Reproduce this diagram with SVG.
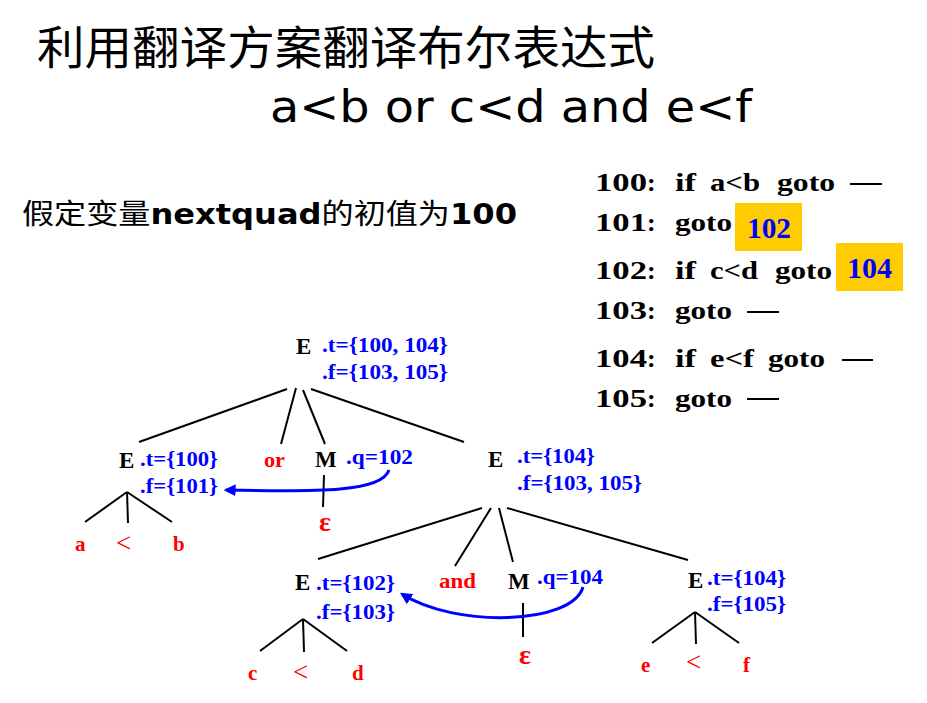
<svg xmlns="http://www.w3.org/2000/svg" width="927" height="703" viewBox="0 0 927 703">
<style>
.code{font-family:"Liberation Serif","Times New Roman",serif;font-weight:bold;font-size:26px;fill:#000}
.nt{font-family:"Liberation Serif","Times New Roman",serif;font-weight:bold;font-size:23px;fill:#000}
.attr{font-family:"Liberation Serif","Times New Roman",serif;font-weight:bold;font-size:21px;fill:#0000ff}
.term{font-family:"Liberation Serif","Times New Roman",serif;font-weight:bold;font-size:21px;fill:#ff0000}
.eps{font-family:"Liberation Serif","Times New Roman",serif;font-weight:bold;font-size:28px;fill:#ff0000}
.lt{font-family:"Liberation Serif","Times New Roman",serif;font-size:27px;fill:#ff0000}
.edge{stroke:#000;stroke-width:2;fill:none}
.arc{stroke:#0000ff;stroke-width:3;fill:none}
.dash{stroke:#000;stroke-width:2}
</style>
<defs>
<marker id="ah" viewBox="0 0 10 10" refX="8" refY="5" markerWidth="4" markerHeight="4" orient="auto" markerUnits="strokeWidth">
<path d="M0,0 L10,5 L0,10 z" fill="#0000ff"/>
</marker>
</defs>
<rect width="927" height="703" fill="#fff"/>

<g id="title">
<text x="37" y="64" font-family="'Noto Sans CJK SC',sans-serif" font-size="46" textLength="618" lengthAdjust="spacingAndGlyphs">利用翻译方案翻译布尔表达式</text>
<text x="270" y="122" font-family="'DejaVu Sans',sans-serif" font-size="44" textLength="482" lengthAdjust="spacingAndGlyphs">a&lt;b or c&lt;d and e&lt;f</text>
</g>
<g id="note">
<text x="22" y="224" font-size="28" textLength="495" lengthAdjust="spacingAndGlyphs"><tspan font-family="'Noto Sans CJK SC',sans-serif">假定变量</tspan><tspan font-family="'DejaVu Sans',sans-serif" font-weight="bold">nextquad</tspan><tspan font-family="'Noto Sans CJK SC',sans-serif">的初值为</tspan><tspan font-family="'DejaVu Sans',sans-serif" font-weight="bold">100</tspan></text>
</g>

<g id="code">
<g id="q100">
<text class="code" x="595" y="191" textLength="52" lengthAdjust="spacingAndGlyphs">100</text><text class="code" x="647" y="191">:</text>
<text class="code" x="675" y="191" textLength="21" lengthAdjust="spacingAndGlyphs">if</text>
<text class="code" x="710" y="191" textLength="50" lengthAdjust="spacingAndGlyphs">a&lt;b</text>
<text class="code" x="777" y="191" textLength="58" lengthAdjust="spacingAndGlyphs">goto</text>
<line class="dash" x1="850" y1="184" x2="882" y2="184"/>
</g>
<g id="q101">
<text class="code" x="595" y="231" textLength="52" lengthAdjust="spacingAndGlyphs">101</text><text class="code" x="647" y="231">:</text>
<text class="code" x="675" y="231" textLength="57" lengthAdjust="spacingAndGlyphs">goto</text>
<rect x="735" y="203" width="67" height="48" fill="#ffcc00"/>
<text class="code" x="747" y="238" style="fill:#0000ff;font-size:30px" textLength="44" lengthAdjust="spacingAndGlyphs">102</text>
</g>
<g id="q102">
<text class="code" x="595" y="279" textLength="52" lengthAdjust="spacingAndGlyphs">102</text><text class="code" x="647" y="279">:</text>
<text class="code" x="675" y="279" textLength="21" lengthAdjust="spacingAndGlyphs">if</text>
<text class="code" x="710" y="279" textLength="48" lengthAdjust="spacingAndGlyphs">c&lt;d</text>
<text class="code" x="775" y="279" textLength="57" lengthAdjust="spacingAndGlyphs">goto</text>
<rect x="836" y="243" width="67" height="48" fill="#ffcc00"/>
<text class="code" x="847" y="278" style="fill:#0000ff;font-size:30px" textLength="45" lengthAdjust="spacingAndGlyphs">104</text>
</g>
<g id="q103">
<text class="code" x="595" y="319" textLength="52" lengthAdjust="spacingAndGlyphs">103</text><text class="code" x="647" y="319">:</text>
<text class="code" x="675" y="319" textLength="57" lengthAdjust="spacingAndGlyphs">goto</text>
<line class="dash" x1="747" y1="312" x2="779" y2="312"/>
</g>
<g id="q104">
<text class="code" x="595" y="367" textLength="52" lengthAdjust="spacingAndGlyphs">104</text><text class="code" x="647" y="367">:</text>
<text class="code" x="675" y="367" textLength="21" lengthAdjust="spacingAndGlyphs">if</text>
<text class="code" x="710" y="367" textLength="44" lengthAdjust="spacingAndGlyphs">e&lt;f</text>
<text class="code" x="768" y="367" textLength="57" lengthAdjust="spacingAndGlyphs">goto</text>
<line class="dash" x1="842" y1="360" x2="873" y2="360"/>
</g>
<g id="q105">
<text class="code" x="595" y="407" textLength="52" lengthAdjust="spacingAndGlyphs">105</text><text class="code" x="647" y="407">:</text>
<text class="code" x="675" y="407" textLength="57" lengthAdjust="spacingAndGlyphs">goto</text>
<line class="dash" x1="747" y1="399" x2="779" y2="399"/>
</g>
</g>

<g id="connectors">
<line class="edge" x1="287" y1="389" x2="139" y2="442"/>
<line class="edge" x1="296" y1="388" x2="281" y2="444"/>
<line class="edge" x1="303" y1="390" x2="325" y2="444"/>
<line class="edge" x1="311" y1="389" x2="464" y2="442"/>
<line class="edge" x1="324" y1="475" x2="323" y2="507"/>
<line class="edge" x1="127" y1="492" x2="85" y2="522"/>
<line class="edge" x1="127" y1="492" x2="128" y2="523"/>
<line class="edge" x1="127" y1="492" x2="172" y2="522"/>
<line class="edge" x1="482" y1="508" x2="318" y2="559"/>
<line class="edge" x1="491" y1="508" x2="455" y2="566"/>
<line class="edge" x1="499" y1="508" x2="513" y2="562"/>
<line class="edge" x1="507" y1="508" x2="688" y2="560"/>
<line class="edge" x1="523" y1="603" x2="523" y2="637"/>
<line class="edge" x1="303" y1="619" x2="260" y2="651"/>
<line class="edge" x1="303" y1="619" x2="304" y2="652"/>
<line class="edge" x1="303" y1="619" x2="347" y2="651"/>
<line class="edge" x1="695" y1="612" x2="652" y2="643"/>
<line class="edge" x1="695" y1="612" x2="696" y2="644"/>
<line class="edge" x1="695" y1="612" x2="739" y2="643"/>
<path class="arc" d="M389,470 C382,492 320,492 226,490" marker-end="url(#ah)"/>
<path class="arc" d="M583,587 C572,625 455,628 402,594" marker-end="url(#ah)"/>
</g>

<g id="E_root">
<text class="nt" x="296" y="354">E</text>
<text class="attr" x="322" y="352" textLength="126" lengthAdjust="spacingAndGlyphs">.t={100, 104}</text>
<text class="attr" x="322" y="379" textLength="126" lengthAdjust="spacingAndGlyphs">.f={103, 105}</text>
</g>
<g id="E1">
<text class="nt" x="119" y="468">E</text>
<text class="attr" x="140" y="466" textLength="78" lengthAdjust="spacingAndGlyphs">.t={100}</text>
<text class="attr" x="140" y="493" textLength="78" lengthAdjust="spacingAndGlyphs">.f={101}</text>
</g>
<g id="or"><text class="term" x="264" y="467" textLength="21" lengthAdjust="spacingAndGlyphs">or</text></g>
<g id="M1">
<text class="nt" x="315" y="467">M</text>
<text class="attr" x="346" y="464" textLength="67" lengthAdjust="spacingAndGlyphs">.q=102</text>
</g>
<g id="eps1"><text class="eps" x="319" y="531">ε</text></g>
<g id="E2">
<text class="nt" x="488" y="467">E</text>
<text class="attr" x="517" y="463" textLength="78" lengthAdjust="spacingAndGlyphs">.t={104}</text>
<text class="attr" x="517" y="490" textLength="125" lengthAdjust="spacingAndGlyphs">.f={103, 105}</text>
</g>
<g id="a"><text class="term" x="75" y="551">a</text></g>
<g id="lt1"><text class="lt" x="116" y="552">&lt;</text></g>
<g id="b"><text class="term" x="173" y="551">b</text></g>
<g id="E3">
<text class="nt" x="295" y="590">E</text>
<text class="attr" x="316" y="590" textLength="79" lengthAdjust="spacingAndGlyphs">.t={102}</text>
<text class="attr" x="316" y="619" textLength="79" lengthAdjust="spacingAndGlyphs">.f={103}</text>
</g>
<g id="and"><text class="term" x="439" y="588" textLength="37" lengthAdjust="spacingAndGlyphs">and</text></g>
<g id="M2">
<text class="nt" x="508" y="589">M</text>
<text class="attr" x="537" y="584" textLength="66" lengthAdjust="spacingAndGlyphs">.q=104</text>
</g>
<g id="eps2"><text class="eps" x="519" y="664">ε</text></g>
<g id="E4">
<text class="nt" x="688" y="588">E</text>
<text class="attr" x="707" y="585" textLength="79" lengthAdjust="spacingAndGlyphs">.t={104}</text>
<text class="attr" x="707" y="611" textLength="79" lengthAdjust="spacingAndGlyphs">.f={105}</text>
</g>
<g id="c"><text class="term" x="248" y="680">c</text></g>
<g id="lt2"><text class="lt" x="293" y="681">&lt;</text></g>
<g id="d"><text class="term" x="352" y="680">d</text></g>
<g id="e"><text class="term" x="641" y="672">e</text></g>
<g id="lt3"><text class="lt" x="686" y="671">&lt;</text></g>
<g id="f"><text class="term" x="743" y="672">f</text></g>
</svg>
